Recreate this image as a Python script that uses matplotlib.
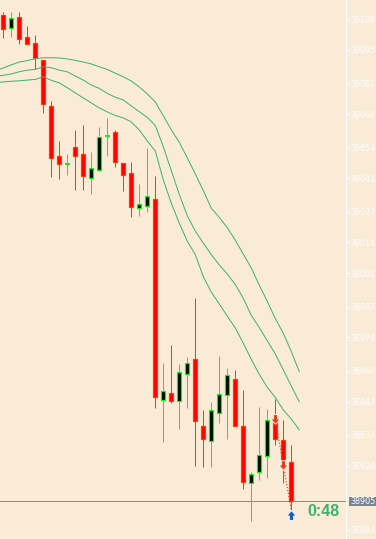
import matplotlib
matplotlib.use('Agg')
import matplotlib.pyplot as plt
import matplotlib.transforms as mtransforms
from matplotlib.patches import Rectangle
from matplotlib.path import Path
import numpy as np

# ---------------- data ----------------
opens = [39109.7, 39104.2, 39108.8, 39100.4, 39097.9, 39090.8, 39071.4, 39050.4, 39047.0, 39054.2,
         39051.2, 39041.1, 39044.5, 39058.8, 39060.5, 39047.4, 39043.2, 39028.5, 39029.3, 39032.3,
         38947.7, 38950.6, 38947.3, 38958.6, 38965.0, 38936.8, 38930.5, 38942.2, 38949.8, 38956.5,
         38936.8, 38912.8, 38917.4, 38924.1, 38939.3, 38930.9, 38921.6]
highs = [39111.0, 39111.0, 39111.0, 39105.1, 39101.3, 39090.8, 39073.5, 39056.7, 39051.2, 39061.3,
         39063.4, 39052.0, 39062.6, 39066.4, 39061.3, 39047.4, 39047.8, 39038.6, 39053.7, 39042.0,
         38963.3, 38970.8, 38962.9, 38965.8, 38990.6, 38943.5, 38946.9, 38966.2, 38961.2, 38960.3,
         38951.9, 38917.4, 38944.8, 38943.9, 38948.1, 38939.3, 38928.8]
lows = [39100.0, 39100.4, 39097.5, 39097.5, 39087.0, 39068.5, 39041.5, 39040.7, 39042.4, 39036.1,
        39036.1, 39034.4, 39044.1, 39050.4, 39045.7, 39035.6, 39024.7, 39025.1, 39026.8, 38944.3,
        38930.0, 38946.4, 38935.5, 38944.3, 38919.9, 38919.5, 38919.5, 38938.0, 38931.3, 38936.8,
        38910.3, 38896.8, 38914.0, 38914.9, 38928.8, 38912.8, 38901.4]
closes = [39103.8, 39108.4, 39099.6, 39097.5, 39091.6, 39072.2, 39049.5, 39047.0, 39047.0, 39050.4,
          39042.0, 39045.3, 39058.4, 39058.8, 39047.8, 39042.4, 39028.9, 39030.2, 39033.5, 38949.0,
          38951.5, 38947.3, 38959.5, 38963.3, 38938.9, 38931.3, 38943.5, 38950.2, 38958.2, 38936.8,
          38913.2, 38916.6, 38924.6, 38939.3, 38931.3, 38922.5, 38905.0]

# envelope / moving-average lines, bar index -1 .. 37 (shifted one bar forward)
ma_index = list(range(-1, 38))
ma_top = [39086.1, 39087.4, 39088.7, 39089.9, 39090.5, 39091.3, 39091.7, 39091.7, 39091.6, 39091.2,
          39090.6, 39089.9, 39089.1, 39087.9, 39086.8, 39085.2, 39083.7, 39081.9, 39079.4, 39076.5,
          39073.1, 39067.3, 39061.4, 39056.1, 39049.6, 39042.8, 39035.8, 39028.4, 39024.5, 39020.2,
          39014.9, 39009.1, 39003.2, 38996.0, 38989.2, 38982.0, 38975.8, 38968.1, 38959.6]
ma_mid = [39083.8, 39084.3, 39084.9, 39085.8, 39086.5, 39086.8, 39087.9, 39087.5, 39086.5, 39085.8,
          39084.0, 39082.3, 39080.2, 39078.8, 39076.7, 39075.1, 39073.9, 39071.4, 39069.0, 39066.6,
          39063.2, 39054.3, 39044.2, 39034.2, 39025.2, 39018.8, 39013.7, 39008.9, 39004.5, 39000.7,
          38996.3, 38990.5, 38983.3, 38978.2, 38972.6, 38967.1, 38960.4, 38953.6, 38946.9]
ma_low = [39081.3, 39081.5, 39081.8, 39082.0, 39082.3, 39082.6, 39083.7, 39082.2, 39081.1, 39079.1,
          39076.9, 39074.8, 39072.7, 39070.6, 39068.9, 39067.4, 39066.4, 39064.7, 39061.3, 39056.7,
          39052.5, 39040.3, 39030.5, 39022.1, 39014.5, 39008.9, 38999.6, 38993.1, 38988.1, 38983.0,
          38978.0, 38971.6, 38964.8, 38958.5, 38953.0, 38948.8, 38943.5, 38939.7, 38935.1]

tick_labels = ['39108', '39095', '39081', '39068', '39054', '39041', '39027', '39014', '39001',
               '38987', '38974', '38960', '38947', '38933', '38920', '38906', '38893']

bid_price = 38905.0
bid_label = '38905'
timer_text = '0:48'

sell_x = [34, 35]
sell_y = [38939.7, 38920.3]
buy_x = [36]
buy_y = [38899.3]
trade_x = [34, 35, 36]
trade_y = [38939.7, 38920.3, 38901.5]

# ---------------- style ----------------
BG = '#FAEBD7'
BULL = '#00FF00'
BEAR_FILL = '#FF0000'
BEAR_EDGE = '#FF3A00'
MA_COLOR = '#3CB371'
PX = 0.72  # one pixel in points at dpi 100

fig = plt.figure(figsize=(3.76, 5.39), dpi=100, facecolor=BG)
ax = fig.add_axes([0, 0, 346 / 376, 1])
ax.set_facecolor(BG)

o = np.array(opens); h = np.array(highs); l = np.array(lows); c = np.array(closes)
x = np.arange(len(o))
bull = c > o
bear = c < o
doji = c == o
up = ~bear

# wicks
ax.vlines(x[up], l[up], h[up], color=BULL, lw=PX, zorder=2)
ax.vlines(x[bear], l[bear], h[bear], color=BEAR_EDGE, lw=PX, zorder=2)

# bodies
ax.bar(x[bull], c[bull] - o[bull], bottom=o[bull], width=0.5, color='black',
       edgecolor=BULL, linewidth=PX * 1.2, zorder=3)
ax.bar(x[bear], c[bear] - o[bear], bottom=o[bear], width=0.5, color=BEAR_FILL,
       edgecolor=BEAR_EDGE, linewidth=PX * 1.2, zorder=3)
ax.hlines(c[doji], x[doji] - 0.3, x[doji] + 0.3, color=BULL, lw=PX * 2, zorder=3)

# moving-average envelope lines
for ma in (ma_top, ma_mid, ma_low):
    ax.plot(ma_index, ma, color=MA_COLOR, lw=PX, zorder=4)

# bid line
ax.axhline(bid_price, color='#8A8A8A', lw=PX, zorder=1)

# trade markers
down_verts = [(-0.22, 0.5), (0.22, 0.5), (0.22, 0.05), (0.5, 0.05), (0.0, -0.5),
              (-0.5, 0.05), (-0.22, 0.05), (-0.22, 0.5)]
down_arrow = Path(down_verts, closed=True)
up_arrow = Path([(vx, -vy) for vx, vy in down_verts], closed=True)
ax.plot(trade_x, trade_y, color='#E0401A', lw=PX * 1.2, ls=(0, (1, 1.5)), zorder=5)
ax.plot(sell_x, sell_y, ls='none', marker=down_arrow, ms=7, mfc='#E0401A',
        mec='white', mew=0.6, zorder=6)
ax.plot(buy_x, buy_y, ls='none', marker=up_arrow, ms=7, mfc='#1060C0',
        mec='white', mew=0.6, zorder=6, clip_on=False)

# limits
ymin, ymax = 38889.2, 39116.0
ax.set_xlim(-0.4125, 42.84)
ax.set_ylim(ymin, ymax)

# axes styling
for s in ('left', 'top', 'bottom'):
    ax.spines[s].set_visible(False)
ax.spines['right'].set_color('white')
ax.spines['right'].set_linewidth(PX)
ax.set_xticks([])
ax.yaxis.tick_right()
ax.set_yticks([float(t) for t in tick_labels])
ax.set_yticklabels(tick_labels)
ax.tick_params(axis='y', colors='white', length=4 * PX, width=PX, pad=0.5,
               labelsize=5.8, labelcolor='white')

# bid price box
trans = mtransforms.blended_transform_factory(ax.transAxes, ax.transData)
ppu = 539 / (ymax - ymin)
box_h = 9 / ppu
ax.add_patch(Rectangle((349 / 346, bid_price - box_h / 2), 27 / 346, box_h,
                       transform=trans, facecolor='#7A8696', edgecolor='none',
                       clip_on=False, zorder=10))
ax.text(350 / 346, bid_price, bid_label, transform=trans, color='white', fontsize=5.8,
        ha='left', va='center', clip_on=False, zorder=11)

# countdown timer
fig.text(323 / 376, 1 - 512 / 539, timer_text, color=MA_COLOR, fontsize=11.5,
         fontweight='bold', family=['Liberation Sans', 'DejaVu Sans'],
         ha='center', va='center')

fig.savefig('out.png', dpi=100, facecolor=BG)
